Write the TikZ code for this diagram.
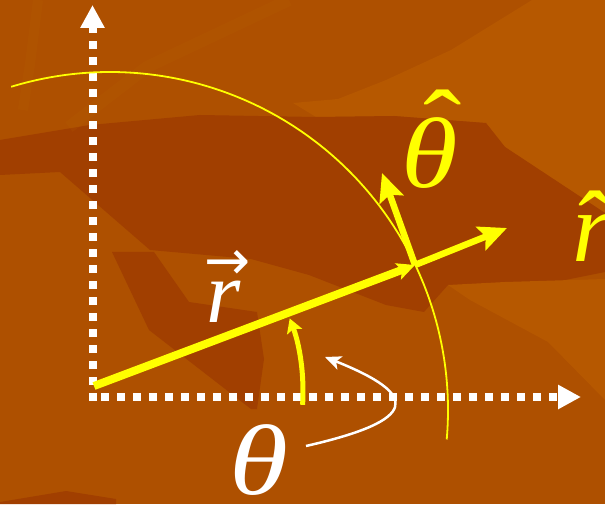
\documentclass[tikz,border=0pt]{standalone}
\usepackage{fontspec}
\setmainfont{Liberation Serif}
\newfontfamily\symfont{DejaVu Sans}
\usepackage{tikz}
\usetikzlibrary{arrows.meta}

\definecolor{bgbase}{RGB}{174,80,0}
\definecolor{bgdark}{RGB}{161,63,0}
\definecolor{bglight}{RGB}{182,88,0}
\definecolor{bgstreak}{RGB}{190,110,0}
\definecolor{vecyellow}{RGB}{255,255,0}

% mark #2 set over #1, kerned by #3 and raised by #4
\newcommand{\putmark}[4]{\ooalign{#1\cr\hidewidth\kern#3\raisebox{#4}{#2}\hidewidth\cr}}

\begin{document}
\begin{tikzpicture}[
	  x=1pt, y=1pt,
	  every node/.style = {inner sep=0pt, align=center},
	  axis/.style = {draw=white, line width=8pt, dash pattern=on 8pt off 8pt, -{Triangle[length=23pt,width=23pt]}},
	  vecline/.style = {draw=vecyellow, line width=8pt, -{Stealth[length=18pt,width=17pt,inset=4pt]}},
	  unitvec/.style = {draw=vecyellow, line width=6.5pt, -{Stealth[length=28pt,width=25pt,inset=5pt]}},
	  circ/.style = {draw=vecyellow, line width=1.8pt},
	  anglearc/.style = {draw=vecyellow, line width=5pt, -{Stealth[length=14pt,width=16pt,inset=3pt]}},
	  pointer/.style = {draw=white, line width=2.5pt, -{Stealth[length=16pt,width=14pt,inset=4pt]}},
	  biglabel/.style = {font=\fontsize{100}{100}\selectfont},
	  smalllabel/.style = {font=\fontsize{88}{88}\selectfont}
	]

	  \useasboundingbox (0,0) rectangle (605,504);
	  \clip (0,0) rectangle (605,504);

	  % background
	  \fill[bgbase] (0,0) rectangle (605,504);
	  \fill[bglight] (293,401) -- (338,405) -- (386,424) -- (451,454) -- (532,504) -- (605,504) -- (605,291)
	    -- (505,357) -- (486,381) -- (394,388) -- (316,387) -- cycle;
	  \fill[bgdark] (316,387) -- (394,388) -- (486,381) -- (505,357) -- (605,291) -- (605,232) -- (540,219)
	    -- (448,219) -- (424,192) -- (386,199) -- (309,229) -- (251,245) -- (150,254) -- (60,332) -- (0,329)
	    -- (0,364) -- (90,379) -- (200,389) -- cycle;
	  \fill[bgdark] (112,252) -- (149,174) -- (251,95) -- (257,95) -- (264,145) -- (257,192) -- (189,202)
	    -- (154,252) -- cycle;
	  \fill[bglight] (448,219) -- (505,222) -- (605,225) -- (605,104) -- (548,162) -- (470,204) -- cycle;
	  \fill[bgdark] (0,0) -- (0,2) -- (66,13) -- (116,5) -- (116,0) -- cycle;
	  \draw[bgstreak, opacity=0.12, line width=12pt] (289,504) -- (147,437) -- (69,377);
	  \draw[bgstreak, opacity=0.12, line width=10pt] (38,504) -- (30,440) -- (23,394);

	  \coordinate (ya0) at (92.5,103);
	  \coordinate (ya1) at (92.5,499);
	  \coordinate (xa0) at (101,107);
	  \coordinate (xa1) at (581,107);
	  \coordinate (O) at (93,112);
	  \coordinate (C) at (110,94);
	  \coordinate (start) at (94,118);
	  \coordinate (tip) at (415,239);
	  \coordinate (rend) at (507,276);
	  \coordinate (tend) at (382,331);
	  \coordinate (pstart) at (306,58);
	  \coordinate (pend) at (325,147);

	  \draw[axis] (ya0) -- (ya1);
	  \draw[axis] (xa0) -- (xa1);

	  \draw[circ] (C) ++(107:338) arc[start angle=107, end angle=-5, radius=338];

	  \draw[vecline] (start) -- (tip);
	  \draw[unitvec] (tip) -- (rend);
	  \draw[unitvec] (tip) -- (tend);

	  \draw[anglearc] (O) ++(-3.5:210) arc[start angle=-3.5, end angle=20.5, radius=210];

	  \node[smalllabel, white, anchor=base] (rvec) at (224,182)
	    {\putmark{\textit{r}}{\symfont\fontsize{55}{55}\selectfont →}{8pt}{43pt}};
	  \node[biglabel, white, anchor=base, xscale=1.2] (theta) at (259,10) {\textit{θ}};
	  \node[biglabel, vecyellow, anchor=base, xscale=1.15] (thetahat) at (430,316)
	    {\putmark{\textit{θ}}{ˆ}{22pt}{28pt}};
	  \node[biglabel, vecyellow, anchor=base] (rhat) at (592,242)
	    {\putmark{\textit{r}}{ˆ}{6pt}{2pt}};

	  \draw[pointer] (pstart) .. controls (420,84) and (420,109) .. (pend);
	\end{tikzpicture}
\end{document}
